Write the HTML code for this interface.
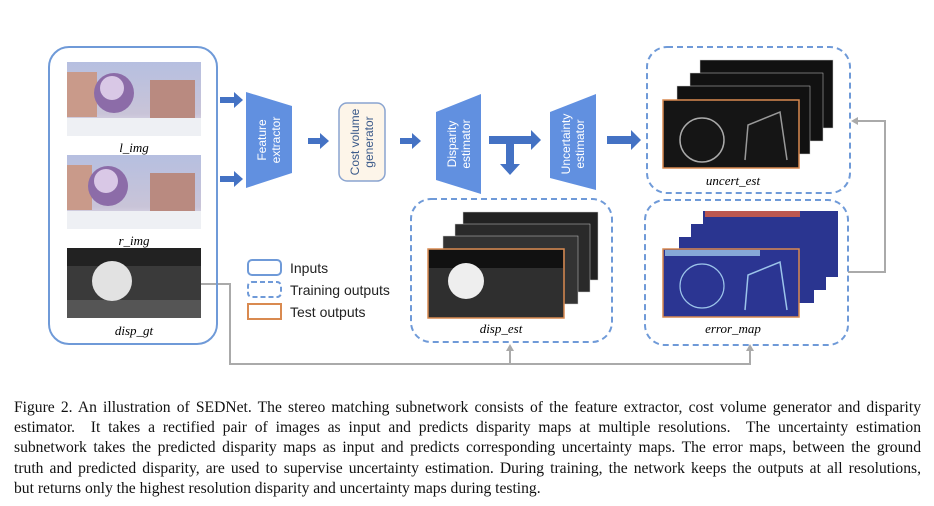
<!DOCTYPE html>
<html><head><meta charset="utf-8"><style>
body{margin:0;background:#fff;width:934px;height:506px;overflow:hidden;position:relative;font-family:"Liberation Serif",serif}
svg{position:absolute;left:0;top:0}
.cap{position:absolute;left:14px;top:398px;width:907px;font-size:15.6px;line-height:20.2px;color:#111}
.cap div{text-align:justify;text-align-last:justify;white-space:nowrap}
.cap div.l{text-align-last:left}
</style></head><body>
<svg width="934" height="390" viewBox="0 0 934 390" font-family="Liberation Sans, DejaVu Sans, sans-serif">
<defs>
<linearGradient id="sky" x1="0" y1="0" x2="0" y2="1"><stop offset="0" stop-color="#b6bfe0"/><stop offset=".7" stop-color="#c9c4d8"/><stop offset="1" stop-color="#eeeef5"/></linearGradient>
</defs>
<!-- gray connectors -->
<g fill="none" stroke="#aaa" stroke-width="2">
<polyline points="201,284 230,284 230,364 750,364 750,350"/>
<polyline points="510,364 510,350"/>
<polyline points="848,272 885,272 885,121 857,121"/>
</g>
<g fill="#aaa">
<path d="M746,351 L750,344 L754,351z"/>
<path d="M506,351 L510,344 L514,351z"/>
<path d="M858,117 L851,121 L858,125z"/>
</g>
<!-- inputs box -->
<rect x="49" y="47" width="168" height="297" rx="20" fill="none" stroke="#6f9ad8" stroke-width="2"/>
<g>
<rect x="67" y="62" width="134" height="74" fill="url(#sky)"/>
<rect x="67" y="72" width="30" height="45" fill="#c99a8a"/><rect x="150" y="80" width="45" height="40" fill="#b98a80"/>
<rect x="67" y="118" width="134" height="18" fill="#eef0f4"/>
<circle cx="114" cy="93" r="20" fill="#8c6ca8"/><circle cx="112" cy="88" r="12" fill="#d9c8e6"/>
<text x="134" y="152" font-family="Liberation Serif,serif" font-style="italic" font-size="13" text-anchor="middle">l_img</text>
<rect x="67" y="155" width="134" height="74" fill="url(#sky)"/>
<rect x="67" y="165" width="25" height="45" fill="#c99a8a"/><rect x="150" y="173" width="45" height="40" fill="#b98a80"/>
<rect x="67" y="211" width="134" height="18" fill="#eef0f4"/>
<circle cx="108" cy="186" r="20" fill="#8c6ca8"/><circle cx="106" cy="181" r="12" fill="#d9c8e6"/>
<text x="134" y="245" font-family="Liberation Serif,serif" font-style="italic" font-size="13" text-anchor="middle">r_img</text>
<rect x="67" y="248" width="134" height="70" fill="#3a3a3a"/>
<rect x="67" y="248" width="134" height="18" fill="#222"/>
<rect x="67" y="300" width="134" height="18" fill="#555"/>
<circle cx="112" cy="281" r="20" fill="#e2e2e2"/>
<text x="134" y="335" font-family="Liberation Serif,serif" font-style="italic" font-size="13" text-anchor="middle">disp_gt</text>
</g>
<!-- blue arrows -->
<g fill="#4472c4">
<path d="M220,97 h14 v-5 l9,8 l-9,8 v-5 h-14z"/>
<path d="M220,176 h14 v-5 l9,8 l-9,8 v-5 h-14z"/>
<path d="M308,138 h12 v-5 l9,8 l-9,8 v-5 h-12z"/>
<path d="M400,138 h12 v-5 l9,8 l-9,8 v-5 h-12z"/>
<path d="M489,136 h42 v-6 l10,10 l-10,10 v-6 h-17 v20 h6 l-10,11 l-10,-11 h6 v-20 h-17z"/>
<path d="M607,136 h24 v-6 l10,10 l-10,10 v-6 h-24z"/>
</g>
<!-- modules -->
<polygon points="246,92 292,106 292,173 246,188" fill="#6190e0"/>
<text transform="translate(266,140) rotate(-90)" font-size="12" fill="#fff" text-anchor="middle">Feature</text>
<text transform="translate(280,140) rotate(-90)" font-size="12" fill="#fff" text-anchor="middle">extractor</text>
<rect x="339" y="103" width="46" height="78" rx="8" fill="#fdf5e9" stroke="#8aa4d0" stroke-width="1.5"/>
<text transform="translate(359,142) rotate(-90)" font-size="12" fill="#3b5a8a" text-anchor="middle">Cost volume</text>
<text transform="translate(373,142) rotate(-90)" font-size="12" fill="#3b5a8a" text-anchor="middle">generator</text>
<polygon points="436,112 481,94 481,194 436,180" fill="#6190e0"/>
<text transform="translate(456,144) rotate(-90)" font-size="12" fill="#fff" text-anchor="middle">Disparity</text>
<text transform="translate(470,144) rotate(-90)" font-size="12" fill="#fff" text-anchor="middle">estimator</text>
<polygon points="550,112 596,94 596,190 550,178" fill="#6190e0"/>
<text transform="translate(570,144) rotate(-90)" font-size="12" fill="#fff" text-anchor="middle">Uncertainty</text>
<text transform="translate(584,144) rotate(-90)" font-size="12" fill="#fff" text-anchor="middle">estimator</text>
<!-- legend -->
<rect x="248" y="260" width="33" height="15" rx="4" fill="none" stroke="#6f9ad8" stroke-width="2"/>
<rect x="248" y="282" width="33" height="15" rx="4" fill="none" stroke="#6f9ad8" stroke-width="2" stroke-dasharray="5,3"/>
<rect x="248" y="304" width="33" height="15" fill="none" stroke="#d98a50" stroke-width="2"/>
<text x="290" y="273" font-size="14" fill="#222">Inputs</text>
<text x="290" y="295" font-size="14" fill="#222">Training outputs</text>
<text x="290" y="317" font-size="14" fill="#222">Test outputs</text>
<!-- disp_est -->
<rect x="411" y="199" width="201" height="143" rx="20" fill="none" stroke="#6f9ad8" stroke-width="2" stroke-dasharray="6,4"/>
<rect x="463" y="212" width="135" height="68" fill="#222" stroke="#ccc" stroke-width=".5"/>
<rect x="455" y="224" width="135" height="68" fill="#2a2a2a" stroke="#ccc" stroke-width=".5"/>
<rect x="443" y="236" width="135" height="68" fill="#333" stroke="#ccc" stroke-width=".5"/>
<rect x="428" y="249" width="136" height="69" fill="#2f2f2f" stroke="#d98a50" stroke-width="1.5"/>
<rect x="429" y="250" width="134" height="18" fill="#111"/>
<circle cx="466" cy="281" r="18" fill="#eee"/>
<text x="501" y="333" font-family="Liberation Serif,serif" font-style="italic" font-size="13" text-anchor="middle">disp_est</text>
<!-- uncert_est -->
<rect x="647" y="47" width="203" height="146" rx="20" fill="none" stroke="#6f9ad8" stroke-width="2" stroke-dasharray="6,4"/>
<rect x="700" y="60" width="133" height="68" fill="#111" stroke="#ccc" stroke-width=".5"/>
<rect x="690" y="73" width="133" height="68" fill="#111" stroke="#ccc" stroke-width=".5"/>
<rect x="677" y="86" width="133" height="68" fill="#111" stroke="#ccc" stroke-width=".5"/>
<rect x="663" y="100" width="136" height="68" fill="#151515" stroke="#d98a50" stroke-width="1.5"/>
<circle cx="702" cy="140" r="22" fill="none" stroke="#aaa" stroke-width="1.5"/>
<path d="M745,160 L748,125 L780,112 L787,160" fill="none" stroke="#999" stroke-width="1.5"/>
<text x="733" y="185" font-family="Liberation Serif,serif" font-style="italic" font-size="13" text-anchor="middle">uncert_est</text>
<!-- error_map -->
<rect x="645" y="200" width="203" height="145" rx="20" fill="none" stroke="#6f9ad8" stroke-width="2" stroke-dasharray="6,4"/>
<rect x="703" y="211" width="135" height="66" fill="#2a3590"/>
<rect x="691" y="224" width="135" height="66" fill="#2a3590"/>
<rect x="679" y="237" width="135" height="66" fill="#2a3590"/>
<rect x="663" y="249" width="136" height="68" fill="#2b3592" stroke="#d98a50" stroke-width="1.5"/>
<rect x="705" y="211" width="95" height="6" fill="#e06040" opacity=".8"/>
<rect x="665" y="250" width="95" height="6" fill="#9ec6e8" opacity=".8"/>
<circle cx="702" cy="286" r="22" fill="none" stroke="#9cc4ea" stroke-width="1.2"/>
<path d="M745,310 L748,275 L780,262 L787,310" fill="none" stroke="#9cc4ea" stroke-width="1.5"/>
<text x="733" y="333" font-family="Liberation Serif,serif" font-style="italic" font-size="13" text-anchor="middle">error_map</text>
</svg>
<div class="cap">
<div>Figure 2. An illustration of SEDNet. The stereo matching subnetwork consists of the feature extractor, cost volume generator and disparity</div>
<div>estimator.&nbsp; It takes a rectified pair of images as input and predicts disparity maps at multiple resolutions.&nbsp; The uncertainty estimation</div>
<div>subnetwork takes the predicted disparity maps as input and predicts corresponding uncertainty maps. The error maps, between the ground</div>
<div>truth and predicted disparity, are used to supervise uncertainty estimation. During training, the network keeps the outputs at all resolutions,</div>
<div class="l">but returns only the highest resolution disparity and uncertainty maps during testing.</div>
</div>
</body></html>
